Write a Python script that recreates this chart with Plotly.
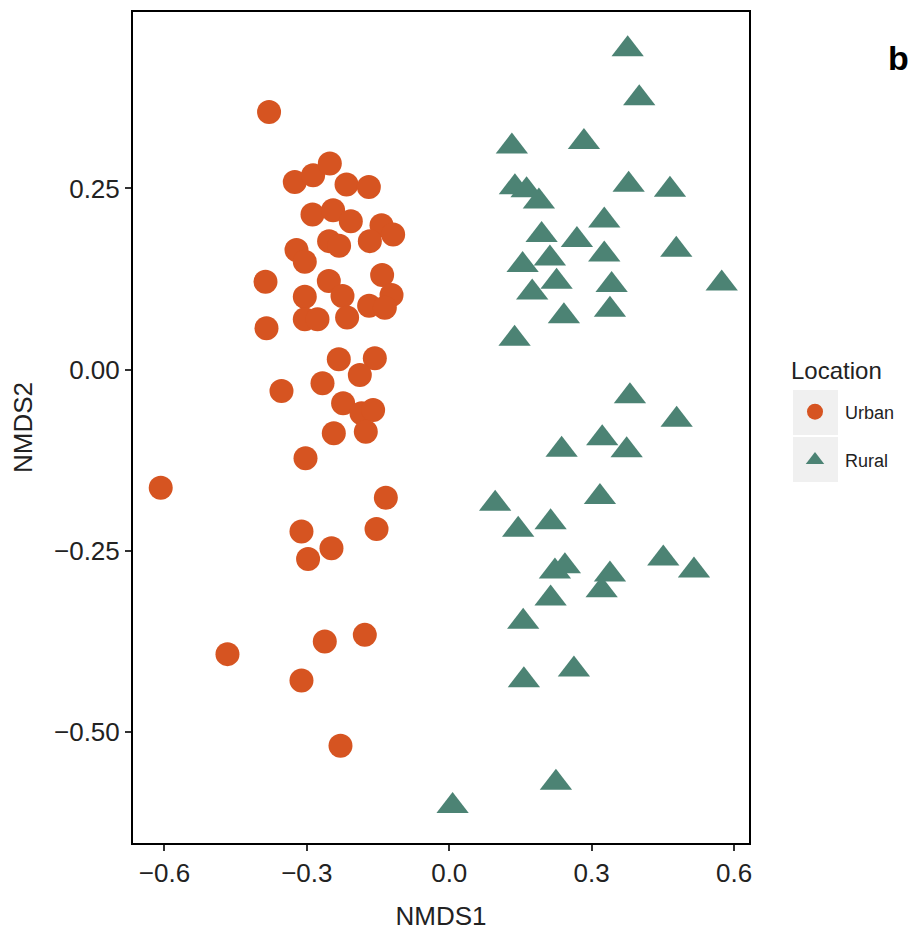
import plotly.graph_objects as go

# ---- data (NMDS scores) ----
urban_x = [-0.3796, -0.3254, -0.2868, -0.2516, -0.2164, -0.1694, -0.2881, -0.2447, -0.2074, -0.1427,
           -0.1182, -0.1673, -0.2531, -0.2320, -0.3218, -0.3043, -0.3871, -0.2537, -0.3043, -0.2249,
           -0.1414, -0.1216, -0.1688, -0.1357, -0.3043, -0.2776, -0.2152, -0.3850, -0.2327, -0.1568,
           -0.1884, -0.2670, -0.3534, -0.2236, -0.1848, -0.1604, -0.1758, -0.2432, -0.3028, -0.6078,
           -0.1336, -0.1532, -0.3113, -0.2481, -0.2974, -0.4672, -0.2622, -0.1779, -0.3113, -0.2291]
urban_y = [0.3557, 0.2591, 0.2684, 0.2845, 0.2556, 0.2522, 0.2142, 0.2201, 0.2049, 0.1994,
           0.1866, 0.1773, 0.1773, 0.1708, 0.1649, 0.1488, 0.1212, 0.1221, 0.1005, 0.1014,
           0.1304, 0.1028, 0.0880, 0.0853, 0.0693, 0.0693, 0.0720, 0.0569, 0.0141, 0.0155,
           -0.0076, -0.0190, -0.0297, -0.0466, -0.0604, -0.0559, -0.0858, -0.0880, -0.1225, -0.1631,
           -0.1769, -0.2201, -0.2238, -0.2467, -0.2615, -0.3930, -0.3756, -0.3664, -0.4294, -0.5195]

rural_x = [0.3758, 0.4002, 0.1319, 0.2837, 0.1383, 0.1629, 0.1888, 0.3779, 0.4649, 0.1945,
           0.3265, 0.2689, 0.3265, 0.2120, 0.4782, 0.1545, 0.2261, 0.3420, 0.5739, 0.1747,
           0.3385, 0.2415, 0.1376, 0.3806, 0.4790, 0.2367, 0.3222, 0.3737, 0.3174, 0.0967,
           0.1452, 0.2135, 0.2226, 0.2436, 0.3385, 0.3210, 0.4508, 0.5155, 0.2135, 0.1557,
           0.2626, 0.1572, 0.2247, 0.0070]
rural_y = [0.4423, 0.3746, 0.3080, 0.3143, 0.2518, 0.2477, 0.2321, 0.2550, 0.2481, 0.1856,
           0.2059, 0.1787, 0.1590, 0.1534, 0.1653, 0.1442, 0.1212, 0.1166, 0.1189, 0.1065,
           0.0825, 0.0734, 0.0425, -0.0370, -0.0693, -0.1107, -0.0949, -0.1115, -0.1759, -0.1852,
           -0.2211, -0.2108, -0.2790, -0.2716, -0.2832, -0.3047, -0.2611, -0.2776, -0.3163, -0.3484,
           -0.4142, -0.4289, -0.5706, -0.6027]

x_ticks = [-0.6, -0.3, 0.0, 0.3, 0.6]
y_ticks = [-0.50, -0.25, 0.00, 0.25]
series_names = ["Urban", "Rural"]
legend_title = "Location"

ORANGE = "#D65421"
GREEN = "#4C8374"
FONT = "Liberation Sans, Arial, Helvetica, sans-serif"
TXT = "#222222"

# figure is placed inside the page body (8px default margin)
OFF = 8
W, H = 919 - 2 * OFF, 947 - 2 * OFF
L, T = 125, 4
R = W - (749 - OFF)
B = H - (843 - OFF)
pw, ph = W - L - R, H - T - B


def px_x(p):  # window pixel -> paper x
    return (p - OFF - L) / pw


def px_y(p):  # window pixel -> paper y
    return (H - B - (p - OFF)) / ph


fig = go.Figure()
fig.add_trace(go.Scatter(
    x=urban_x, y=urban_y, mode="markers", name=series_names[0], legendgroup="u",
    marker=dict(symbol="circle", size=24, color=ORANGE, line=dict(width=0)),
))
fig.add_trace(go.Scatter(
    x=rural_x, y=rural_y, mode="markers", name=series_names[1], legendgroup="r",
    marker=dict(symbol="triangle-up", size=28, color=GREEN, line=dict(width=0)),
))

# grey legend key boxes (ggplot style)
for (top, bot) in [(390, 435), (437, 482)]:
    fig.add_shape(type="rect", xref="paper", yref="paper",
                  x0=px_x(793), x1=px_x(838), y0=px_y(bot), y1=px_y(top),
                  fillcolor="#F0F0F0", line=dict(width=0), layer="below")

fig.add_annotation(text=legend_title, xref="paper", yref="paper", x=px_x(789), y=px_y(370),
                   showarrow=False, font=dict(family=FONT, size=24, color=TXT),
                   xanchor="left", yanchor="middle")

fig.add_annotation(text="<b>b</b>", xref="paper", yref="paper", x=px_x(910), y=px_y(58),
                   showarrow=False, font=dict(family=FONT, size=34, color="black"),
                   xanchor="right", yanchor="middle", borderpad=0)

axis_common = dict(
    showgrid=False, zeroline=False, showline=True, mirror=True, linecolor="black", linewidth=2,
    ticks="outside", ticklen=6, tickwidth=1.5, tickcolor="#333333",
    tickfont=dict(family=FONT, size=26, color=TXT),
)

fig.update_layout(
    width=W, height=H,
    margin=dict(l=L, r=R, t=T, b=B, autoexpand=False),
    plot_bgcolor="white", paper_bgcolor="white",
    font=dict(family=FONT, color="black"),
    xaxis=dict(range=[-0.6662, 0.6314], tickvals=x_ticks, tickformat=".1f",
               title=dict(text="NMDS1", font=dict(family=FONT, size=26, color=TXT), standoff=20),
               **axis_common),
    yaxis=dict(range=[-0.6538, 0.4937], tickvals=y_ticks, tickformat=".2f",
               title=dict(text="NMDS2", font=dict(family=FONT, size=26, color=TXT), standoff=14),
               **axis_common),
    legend=dict(
        x=px_x(785), y=px_y(436), xanchor="left", yanchor="middle",
        font=dict(family=FONT, size=18, color=TXT),
        bgcolor="rgba(0,0,0,0)", tracegroupgap=22, itemsizing="trace", itemwidth=50,
    ),
)

fig.write_html("out.html")
